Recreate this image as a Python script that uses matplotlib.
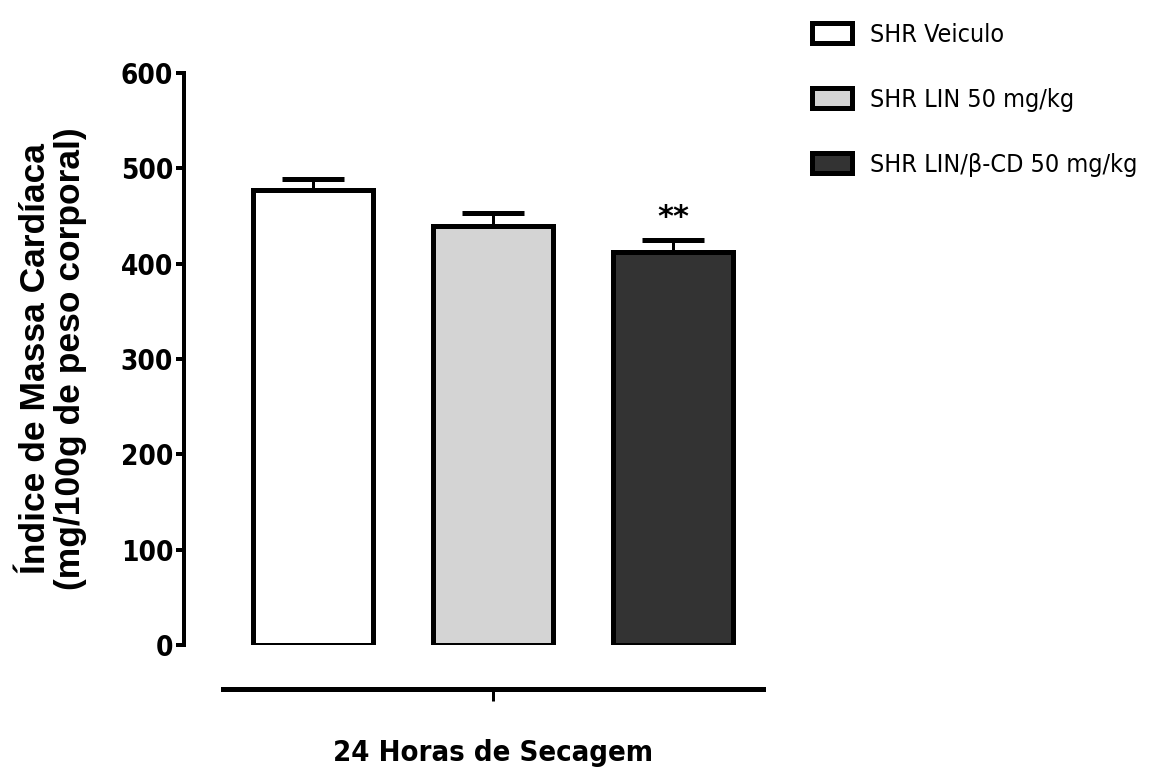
import matplotlib
matplotlib.use('Agg')
import matplotlib.pyplot as plt
from matplotlib.patches import Patch

groups = ['SHR Veiculo', 'SHR LIN 50 mg/kg', 'SHR LIN/β-CD 50 mg/kg']
means = [477, 440, 412]
sem = [12, 13, 13]
colors = ['#ffffff', '#d4d4d4', '#333333']
yticks = [0, 100, 200, 300, 400, 500, 600]
xtick_label = ''
xlabel = '24 Horas de Secagem'
ylabel = 'Índice de Massa Cardíaca\n(mg/100g de peso corporal)'
signif = ['', '', '**']

narrow = ['DejaVu Sans']
wide = ['Liberation Sans', 'DejaVu Sans']
px = 72 / 100  # points per pixel at 100 dpi

fig = plt.figure(figsize=(11.49, 7.74), dpi=100)
W, H = 1149, 774
ax = fig.add_axes([223 / W, 1 - 645 / H, 540 / W, (645 - 73) / H])

x = list(range(len(means)))
ax.bar(x, means, width=0.667, color=colors, edgecolor='black',
       linewidth=5 * px, zorder=2)
ax.errorbar(x, means, yerr=[[0] * len(sem), sem], fmt='none', ecolor='black',
            elinewidth=3 * px, capsize=31 * px, capthick=5 * px, zorder=1)
for xi, m, s, t in zip(x, means, sem, signif):
    if t:
        ax.text(xi, m + s + 8, t, ha='center', va='bottom', fontsize=22,
                fontweight='bold', family=narrow)

for s in ['top', 'right']:
    ax.spines[s].set_visible(False)
ax.spines['left'].set_position(('outward', 39 * px))
ax.spines['left'].set_linewidth(4 * px)
ax.spines['bottom'].set_position(('outward', 44 * px))
ax.spines['bottom'].set_linewidth(5 * px)
ax.tick_params(axis='y', length=8 * px, width=4 * px, pad=2)
ax.tick_params(axis='x', length=12 * px, width=3 * px)

ax.set_xlim(-0.5, 2.5)
ax.set_ylim(0, 600)
ax.set_yticks(yticks)
ax.set_yticklabels([str(v) for v in yticks], family=narrow,
                   fontweight='bold', fontsize=20, fontstretch='condensed')
ax.set_xticks([1])
ax.set_xticklabels([xtick_label])

ax.set_xlabel(xlabel, family=narrow, fontweight='bold', fontsize=21,
              fontstretch='condensed', labelpad=24)
ax.set_ylabel(ylabel, family=wide, fontweight='bold', fontsize=25.5,
              labelpad=24, linespacing=1.1)

handles = [Patch(facecolor=c, edgecolor='black', linewidth=5 * px)
           for c in colors]
fig.legend(handles, groups, loc='upper left',
           bbox_to_anchor=(789 / W, 1 - 0 / H), frameon=False,
           prop={'family': narrow, 'size': 18, 'stretch': 'condensed'},
           handlelength=1.6, handleheight=0.85, handletextpad=0.75,
           labelspacing=1.65)

fig.savefig('out.png', dpi=100)
